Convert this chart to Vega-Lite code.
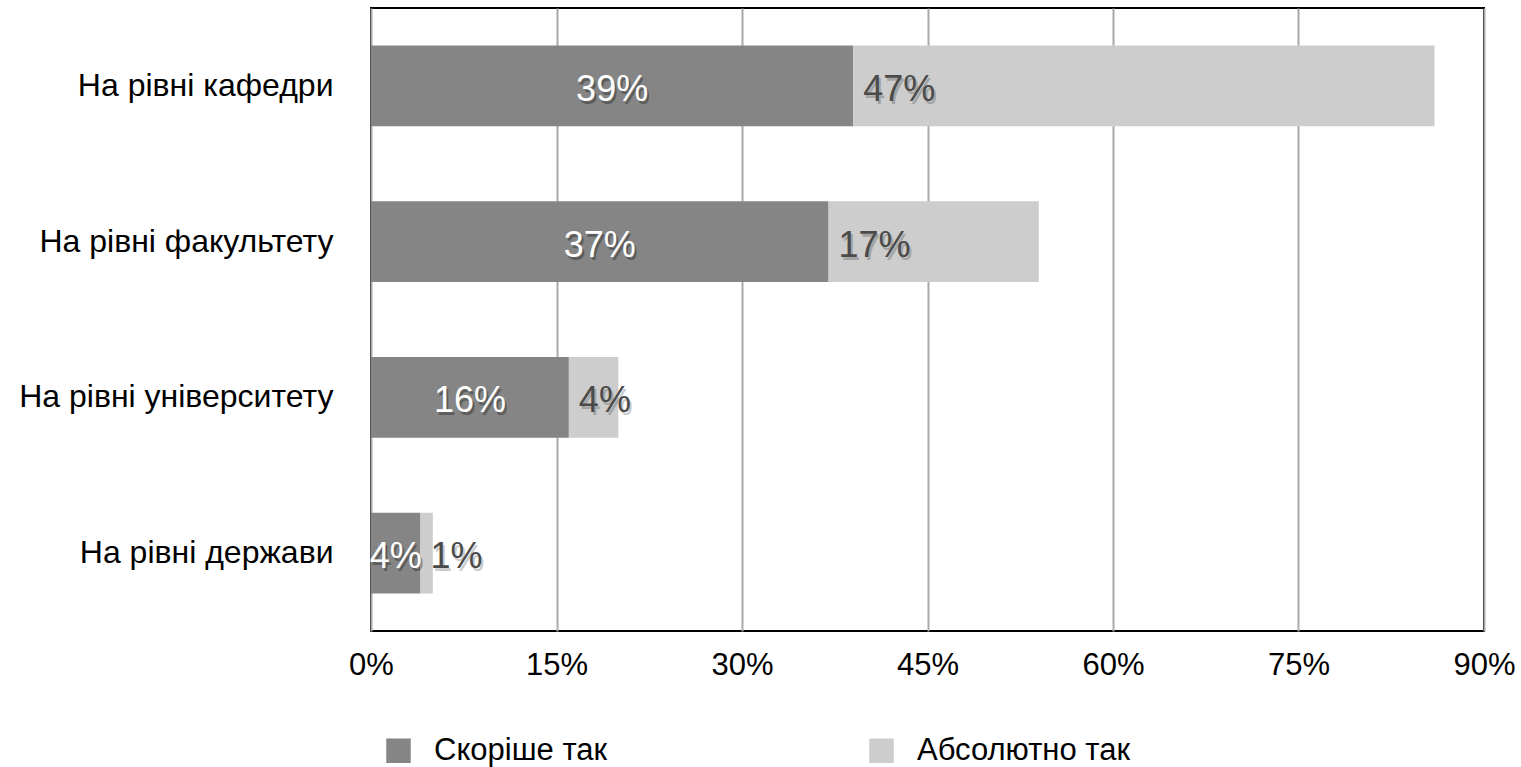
{
  "$schema": "https://vega.github.io/schema/vega-lite/v6.json",
  "autosize": {"type": "none"},
  "width": 1113,
  "height": 623,
  "padding": {"left": 371, "top": 8, "right": 37, "bottom": 136},
  "background": "white",
  "config": {
    "font": "Liberation Sans",
    "view": {"stroke": "black", "strokeWidth": 2}
  },
  "data": {
    "values": [
      {"category": "На рівні кафедри", "series": "Скоріше так", "order": 1, "value": 0.39},
      {"category": "На рівні кафедри", "series": "Абсолютно так", "order": 2, "value": 0.47},
      {"category": "На рівні факультету", "series": "Скоріше так", "order": 1, "value": 0.37},
      {"category": "На рівні факультету", "series": "Абсолютно так", "order": 2, "value": 0.17},
      {"category": "На рівні університету", "series": "Скоріше так", "order": 1, "value": 0.16},
      {"category": "На рівні університету", "series": "Абсолютно так", "order": 2, "value": 0.04},
      {"category": "На рівні держави", "series": "Скоріше так", "order": 1, "value": 0.04},
      {"category": "На рівні держави", "series": "Абсолютно так", "order": 2, "value": 0.01}
    ]
  },
  "transform": [
    {"stack": "value", "groupby": ["category"], "sort": [{"field": "order"}], "as": ["v0", "v1"]}
  ],
  "encoding": {
    "y": {
      "field": "category", "type": "nominal",
      "sort": ["На рівні кафедри", "На рівні факультету", "На рівні університету", "На рівні держави"],
      "scale": {"paddingInner": 0.48, "paddingOuter": 0.24},
      "axis": {"title": null, "ticks": false, "domain": false, "labelFontSize": 32, "labelColor": "black", "labelPadding": 38, "labelLimit": 400}
    }
  },
  "resolve": {"scale": {"x": "independent"}},
  "layer": [
    {
      "mark": {"type": "bar"},
      "encoding": {
        "x": {
          "field": "v0", "type": "quantitative",
          "scale": {"domain": [0, 0.9]},
          "axis": {"title": null, "values": [0, 0.15, 0.3, 0.45, 0.6, 0.75, 0.9], "format": ".0%", "labelFontSize": 31, "labelColor": "black", "labelPadding": 19, "ticks": false, "domain": false, "gridColor": "#aaaaaa", "gridWidth": 2, "labelFlush": false}
        },
        "x2": {"field": "v1"},
        "color": {
          "field": "series", "type": "nominal",
          "sort": ["Скоріше так", "Абсолютно так"],
          "scale": {"domain": ["Скоріше так", "Абсолютно так"], "range": ["#848584", "#cccdcc"]},
          "legend": {"title": null, "orient": "none", "legendX": 12, "legendY": 727, "direction": "horizontal", "symbolType": "square", "symbolSize": 600, "symbolStrokeWidth": 0, "symbolOpacity": 1, "labelFontSize": 31, "labelColor": "black", "labelOffset": 20, "labelLimit": 500, "columnPadding": 258}
        }
      }
    },
    {
      "transform": [{"filter": "datum.order == 1"}],
      "mark": {"type": "text", "fontSize": 36, "color": "black", "opacity": 0.3, "dx": 2, "dy": 7},
      "encoding": {
        "x": {"field": "value", "type": "quantitative", "scale": {"domain": [0, 1.8]}, "axis": null},
        "text": {"field": "value", "type": "quantitative", "format": ".0%"}
      }
    },
    {
      "transform": [{"filter": "datum.order == 1"}],
      "mark": {"type": "text", "fontSize": 36, "color": "white", "dy": 4},
      "encoding": {
        "x": {"field": "value", "type": "quantitative", "scale": {"domain": [0, 1.8]}, "axis": null},
        "text": {"field": "value", "type": "quantitative", "format": ".0%"}
      }
    },
    {
      "transform": [{"filter": "datum.order == 2"}],
      "mark": {"type": "text", "fontSize": 36, "color": "black", "opacity": 0.2, "align": "left", "dx": 12, "dy": 7},
      "encoding": {
        "x": {"field": "v0", "type": "quantitative", "scale": {"domain": [0, 0.9]}, "axis": null},
        "text": {"field": "value", "type": "quantitative", "format": ".0%"}
      }
    },
    {
      "transform": [{"filter": "datum.order == 2"}],
      "mark": {"type": "text", "fontSize": 36, "color": "#4a4a4a", "align": "left", "dx": 10, "dy": 4},
      "encoding": {
        "x": {"field": "v0", "type": "quantitative", "scale": {"domain": [0, 0.9]}, "axis": null},
        "text": {"field": "value", "type": "quantitative", "format": ".0%"}
      }
    }
  ]
}
